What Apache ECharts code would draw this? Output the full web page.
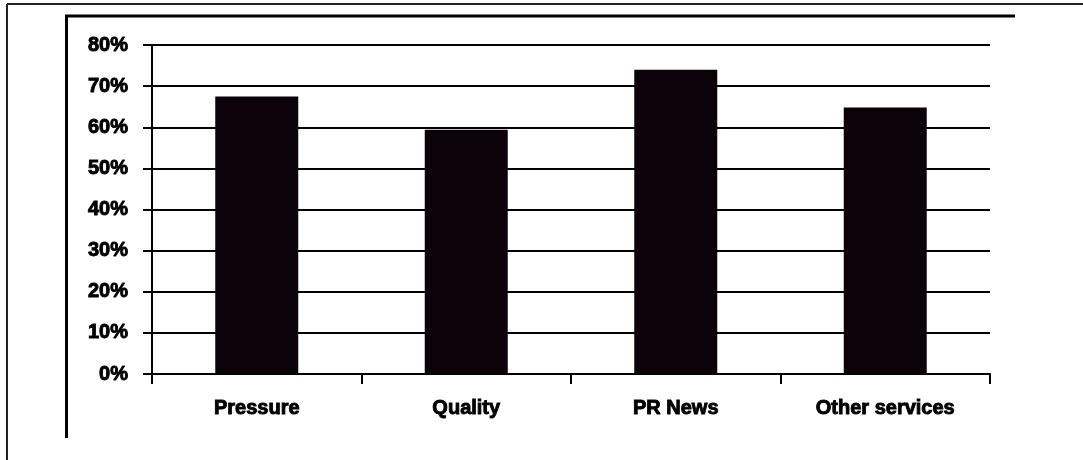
<!DOCTYPE html>
<html>
<head>
<meta charset="utf-8">
<script src="https://cdn.jsdelivr.net/npm/echarts@6/dist/echarts.min.js"></script>
<style>
  html, body { margin: 0; padding: 0; background: #fff; }
  #chart { width: 1083px; height: 460px; }
</style>
</head>
<body>
<div id="chart"></div>
<script>
var categories = ['Pressure', 'Quality', 'PR News', 'Other services'];
var shares = [0.675, 0.594, 0.74, 0.648];
var yTicks = [0, 0.1, 0.2, 0.3, 0.4, 0.5, 0.6, 0.7, 0.8];

var dom = document.getElementById('chart');
var myChart = echarts.init(dom);

// heavy, slightly smeared bold like the original export
var labelFont = {
    color: '#000',
    fontFamily: 'Liberation Sans',
    fontWeight: 'bold',
    fontSize: 20,
    textBorderColor: '#000',
    textBorderWidth: 0.9
};

var option = {
    backgroundColor: '#fff',
    animation: false,
    grid: {
        left: 152,
        right: 93,
        top: 45,
        bottom: 86
    },
    // frame lines around the plot
    graphic: [
        { type: 'line', shape: { x1: 7, y1: 4, x2: 1083, y2: 4 }, style: { stroke: '#222', lineWidth: 2 } },
        { type: 'line', shape: { x1: 7, y1: 4, x2: 7, y2: 460 }, style: { stroke: '#222', lineWidth: 2 } },
        { type: 'line', shape: { x1: 65, y1: 16, x2: 1015, y2: 16 }, style: { stroke: '#000', lineWidth: 3 } },
        { type: 'line', shape: { x1: 66.5, y1: 16, x2: 66.5, y2: 438 }, style: { stroke: '#000', lineWidth: 3 } }
    ],
    xAxis: {
        type: 'category',
        data: categories,
        boundaryGap: true,
        axisLine: { lineStyle: { color: '#000', width: 2 } },
        axisTick: { show: true, length: 10, lineStyle: { color: '#000', width: 2 } },
        axisLabel: Object.assign({ margin: 24 }, labelFont)
    },
    yAxis: {
        type: 'value',
        min: 0,
        max: 0.8,
        interval: 0.1,
        axisLine: { show: true, lineStyle: { color: '#000', width: 2 } },
        axisTick: { show: true, length: 9, lineStyle: { color: '#000', width: 2 } },
        splitLine: { show: true, lineStyle: { color: '#000', width: 2 } },
        axisLabel: Object.assign({
            margin: 24,
            formatter: function (v) {
                var i = yTicks.indexOf(Math.round(v * 10) / 10);
                return Math.round(yTicks[i] * 100) + '%';
            }
        }, labelFont)
    },
    series: [{
        type: 'bar',
        data: shares,
        barWidth: 83,
        itemStyle: { color: '#0c0209' }
    }]
};

myChart.setOption(option, true);
</script>
</body>
</html>
